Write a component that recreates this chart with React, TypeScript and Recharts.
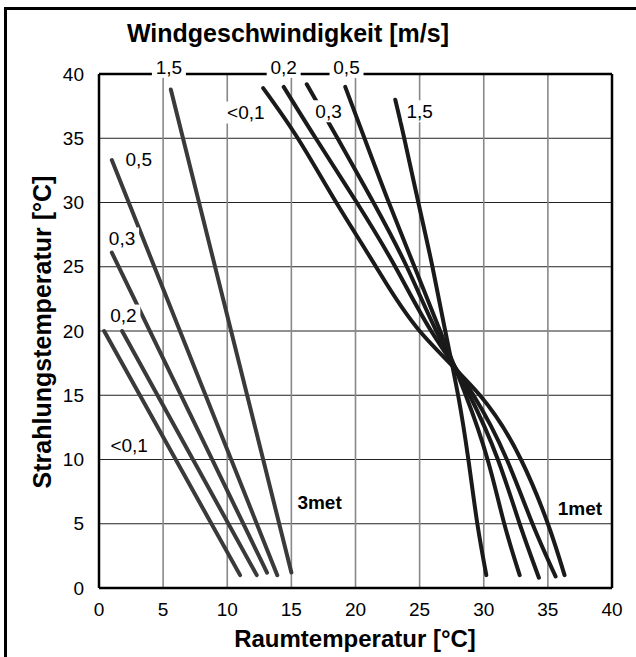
import { LineChart, Line, XAxis, YAxis, CartesianGrid, ReferenceLine, ReferenceDot } from 'recharts';

const FONT = '"Liberation Sans", Arial, sans-serif';

const xTicks = [0, 5, 10, 15, 20, 25, 30, 35, 40];
const yTicks = [0, 5, 10, 15, 20, 25, 30, 35, 40];

// 3 met – straight lines per wind speed
const met3Below01 = [{ x: 0.4, y: 20 }, { x: 11.0, y: 1.0 }];
const met3Speed02 = [{ x: 1.8, y: 20 }, { x: 12.3, y: 1.0 }];
const met3Speed03 = [{ x: 1.0, y: 26.1 }, { x: 13.1, y: 1.2 }];
const met3Speed05 = [{ x: 1.0, y: 33.3 }, { x: 13.9, y: 1.0 }];
const met3Speed15 = [{ x: 5.6, y: 38.8 }, { x: 15.0, y: 1.2 }];

// 1 met – curves, all cross near 27.5 / 17.5
const met1Below01 = [
  { x: 12.8, y: 38.9 }, { x: 15.5, y: 35 }, { x: 18.5, y: 30 }, { x: 21.6, y: 25 }, { x: 25.0, y: 20 },
  { x: 29.7, y: 15 }, { x: 32.9, y: 10 }, { x: 35.0, y: 5 }, { x: 36.3, y: 1.0 },
];
const met1Speed02 = [
  { x: 14.4, y: 39.0 }, { x: 16.9, y: 35 }, { x: 20.1, y: 30 }, { x: 23.1, y: 25 }, { x: 25.9, y: 20 },
  { x: 29.2, y: 15 }, { x: 31.8, y: 10 }, { x: 33.8, y: 5 }, { x: 35.6, y: 0.9 },
];
const met1Speed03 = [
  { x: 16.2, y: 39.2 }, { x: 18.6, y: 35 }, { x: 21.4, y: 30 }, { x: 24.0, y: 25 }, { x: 26.3, y: 20 },
  { x: 28.9, y: 15 }, { x: 31.1, y: 10 }, { x: 32.8, y: 5 }, { x: 34.3, y: 0.8 },
];
const met1Speed05 = [
  { x: 19.2, y: 39.0 }, { x: 20.7, y: 35 }, { x: 22.6, y: 30 }, { x: 24.6, y: 25 }, { x: 26.6, y: 20 },
  { x: 28.6, y: 15 }, { x: 30.3, y: 10 }, { x: 31.6, y: 5 }, { x: 32.8, y: 1.0 },
];
const met1Speed15 = [
  { x: 23.1, y: 38.0 }, { x: 23.8, y: 35 }, { x: 24.9, y: 30 }, { x: 26.0, y: 25 }, { x: 27.0, y: 20 },
  { x: 28.0, y: 15 }, { x: 28.8, y: 10 }, { x: 29.5, y: 5 }, { x: 30.2, y: 1.0 },
];

const met3Series = [met3Below01, met3Speed02, met3Speed03, met3Speed05, met3Speed15];
const met1Series = [met1Below01, met1Speed02, met1Speed03, met1Speed05, met1Speed15];

// wind speed labels next to the curves
const speedLabels = [
  { text: '1,5', x: 5.45, y: 40.55 },
  { text: '0,2', x: 14.4, y: 40.55 },
  { text: '0,5', x: 19.3, y: 40.55 },
  { text: '<0,1', x: 11.45, y: 37.0 },
  { text: '0,3', x: 17.9, y: 37.1 },
  { text: '1,5', x: 25.0, y: 37.1 },
  { text: '0,5', x: 3.1, y: 33.4 },
  { text: '0,3', x: 1.8, y: 27.2 },
  { text: '0,2', x: 1.9, y: 21.2 },
  { text: '<0,1', x: 2.35, y: 11.1 },
];
const metLabels = [
  { text: '3met', x: 17.2, y: 6.7 },
  { text: '1met', x: 37.5, y: 6.2 },
];

const textLabel = (text: string, bold: boolean) => (p: any) => {
  const w = text.length * 10 + 4;
  return (
    <g>
      {!bold && <rect x={p.cx - w / 2} y={p.cy - 11} width={w} height={22} fill="#fff" />}
      <text
        x={p.cx}
        y={p.cy}
        dy="0.36em"
        textAnchor="middle"
        fontSize={19}
        fontWeight={bold ? 'bold' : 'normal'}
        fontFamily={FONT}
        fill="#000"
      >
        {text}
      </text>
    </g>
  );
};

export default function App() {
  return (
    <div style={{ position: 'absolute', left: 0, top: 0, width: 636, height: 657, background: '#fff', overflow: 'hidden' }}>
      <div
        style={{
          position: 'absolute', left: 4, top: 7, width: 700, height: 700,
          borderLeft: '3px solid #000', borderTop: '3px solid #000',
        }}
      />
      <LineChart
        width={636}
        height={657}
        margin={{ top: 74, right: 24, bottom: 39, left: 39 }}
        style={{ position: 'absolute', left: 0, top: 0 }}
      >
        <CartesianGrid vertical={false} stroke="#222" strokeWidth={1} />
        <CartesianGrid horizontal={false} stroke="#888" strokeWidth={1.6} />
        <XAxis
          type="number"
          dataKey="x"
          domain={[0, 40]}
          ticks={xTicks}
          height={30}
          tickLine={false}
          tickSize={6}
          tickMargin={9}
          axisLine={{ stroke: '#000', strokeWidth: 2.5 }}
          tick={{ fontSize: 19, fill: '#000', fontFamily: FONT }}
        />
        <YAxis
          type="number"
          dataKey="y"
          domain={[0, 40]}
          ticks={yTicks}
          width={60}
          tickLine={false}
          tickSize={6}
          tickMargin={9}
          axisLine={{ stroke: '#000', strokeWidth: 2.5 }}
          tick={{ fontSize: 19, fill: '#000', fontFamily: FONT }}
        />
        <ReferenceLine y={40} stroke="#000" strokeWidth={2.5} />
        <ReferenceLine x={40} stroke="#000" strokeWidth={2.5} />
        {met3Series.map((d, i) => (
          <Line
            key={`m3-${i}`}
            data={d}
            dataKey="y"
            type="linear"
            stroke="#3a3a3a"
            strokeWidth={4}
            strokeLinecap="round"
            dot={false}
            isAnimationActive={false}
          />
        ))}
        {met1Series.map((d, i) => (
          <Line
            key={`m1-${i}`}
            data={d}
            dataKey="y"
            type="natural"
            stroke="#1a1a1a"
            strokeWidth={4}
            strokeLinecap="round"
            dot={false}
            isAnimationActive={false}
          />
        ))}
        {speedLabels.map((l, i) => (
          <ReferenceDot key={`sl-${i}`} x={l.x} y={l.y} ifOverflow="visible" shape={textLabel(l.text, false)} />
        ))}
        {metLabels.map((l, i) => (
          <ReferenceDot key={`ml-${i}`} x={l.x} y={l.y} ifOverflow="visible" shape={textLabel(l.text, true)} />
        ))}
      </LineChart>
      <svg width={636} height={657} style={{ position: 'absolute', left: 0, top: 0, pointerEvents: 'none' }}>
        <text x={288} y={42} textAnchor="middle" fontSize={25} fontWeight="bold" fontFamily={FONT} fill="#000">
          Windgeschwindigkeit [m/s]
        </text>
        <text x={355} y={647} textAnchor="middle" fontSize={24} fontWeight="bold" fontFamily={FONT} fill="#000">
          Raumtemperatur [°C]
        </text>
        <text
          transform="translate(51, 332) rotate(-90)"
          textAnchor="middle"
          fontSize={25}
          fontWeight="bold"
          fontFamily={FONT}
          fill="#000"
        >
          Strahlungstemperatur [°C]
        </text>
      </svg>
    </div>
  );
}
